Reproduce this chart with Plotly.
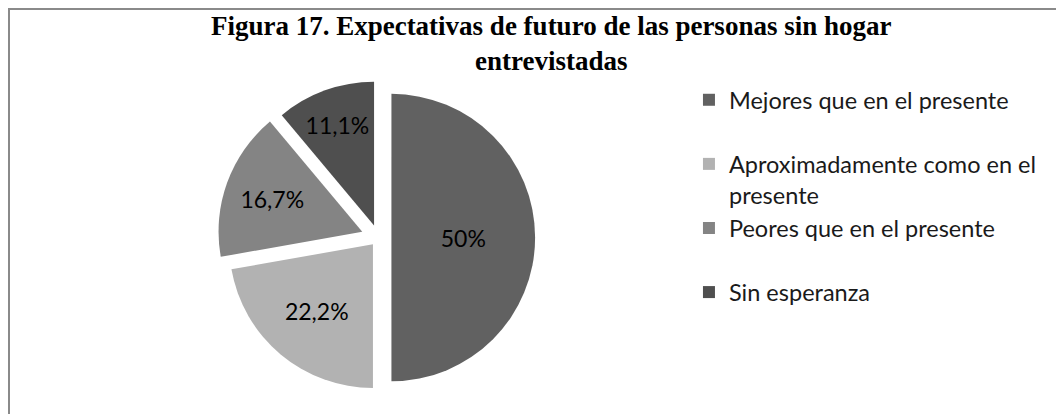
import plotly.graph_objects as go

# datos de la figura 17
categorias = [
    "Mejores que en el presente",
    "Aproximadamente como en el<br>presente",
    "Peores que en el presente",
    "Sin esperanza",
]
porcentajes = [50, 22.2, 16.7, 11.1]
etiquetas = [f"{v:g}%".replace(".", ",") for v in porcentajes]

colores = ["#616161", "#b2b2b2", "#848484", "#4f4f4f"]
separacion = [0.09, 0.06, 0.12, 0.09]

# linea en blanco detras de las entradas de una sola linea para espaciar la leyenda
nombres_leyenda = [c if "<br>" in c else c + "<br> " for c in categorias]

fig = go.Figure()

fig.add_trace(
    go.Pie(
        labels=nombres_leyenda,
        values=porcentajes,
        text=etiquetas,
        textinfo="text",
        textposition="inside",
        insidetextorientation="horizontal",
        textfont=dict(family="Lato", size=23, color="black"),
        marker=dict(colors=colores, line=dict(width=0)),
        pull=separacion,
        sort=False,
        direction="clockwise",
        rotation=0,
        domain=dict(x=[0.1969, 0.4995], y=[0.0565, 0.8343]),
        hoverinfo="label+text",
    )
)

fig.update_layout(
    width=1064,
    height=414,
    margin=dict(l=0, r=0, t=0, b=0),
    paper_bgcolor="white",
    plot_bgcolor="white",
    title=dict(
        text="Figura 17. Expectativas de futuro de las personas sin hogar<br>entrevistadas",
        font=dict(family="Liberation Serif", size=27, color="black", weight="bold"),
        x=0.5105,
        xanchor="center",
        y=1 - 27 / 414,
        yanchor="top",
    ),
    legend=dict(
        x=0.640,
        xanchor="left",
        y=1 - 70 / 414,
        yanchor="top",
        valign="top",
        font=dict(family="Lato", size=23.5, color="#1a1a1a"),
        bgcolor="rgba(0,0,0,0)",
    ),
    # marco del grafico (lados derecho e inferior fuera de la imagen)
    shapes=[
        dict(
            type="rect",
            xref="paper",
            yref="paper",
            x0=1 / 1064,
            x1=1.02,
            y0=-0.02,
            y1=1 - 1 / 414,
            line=dict(color="#8a8a8a", width=2),
            layer="below",
        )
    ],
)

fig.write_html("out.html")
